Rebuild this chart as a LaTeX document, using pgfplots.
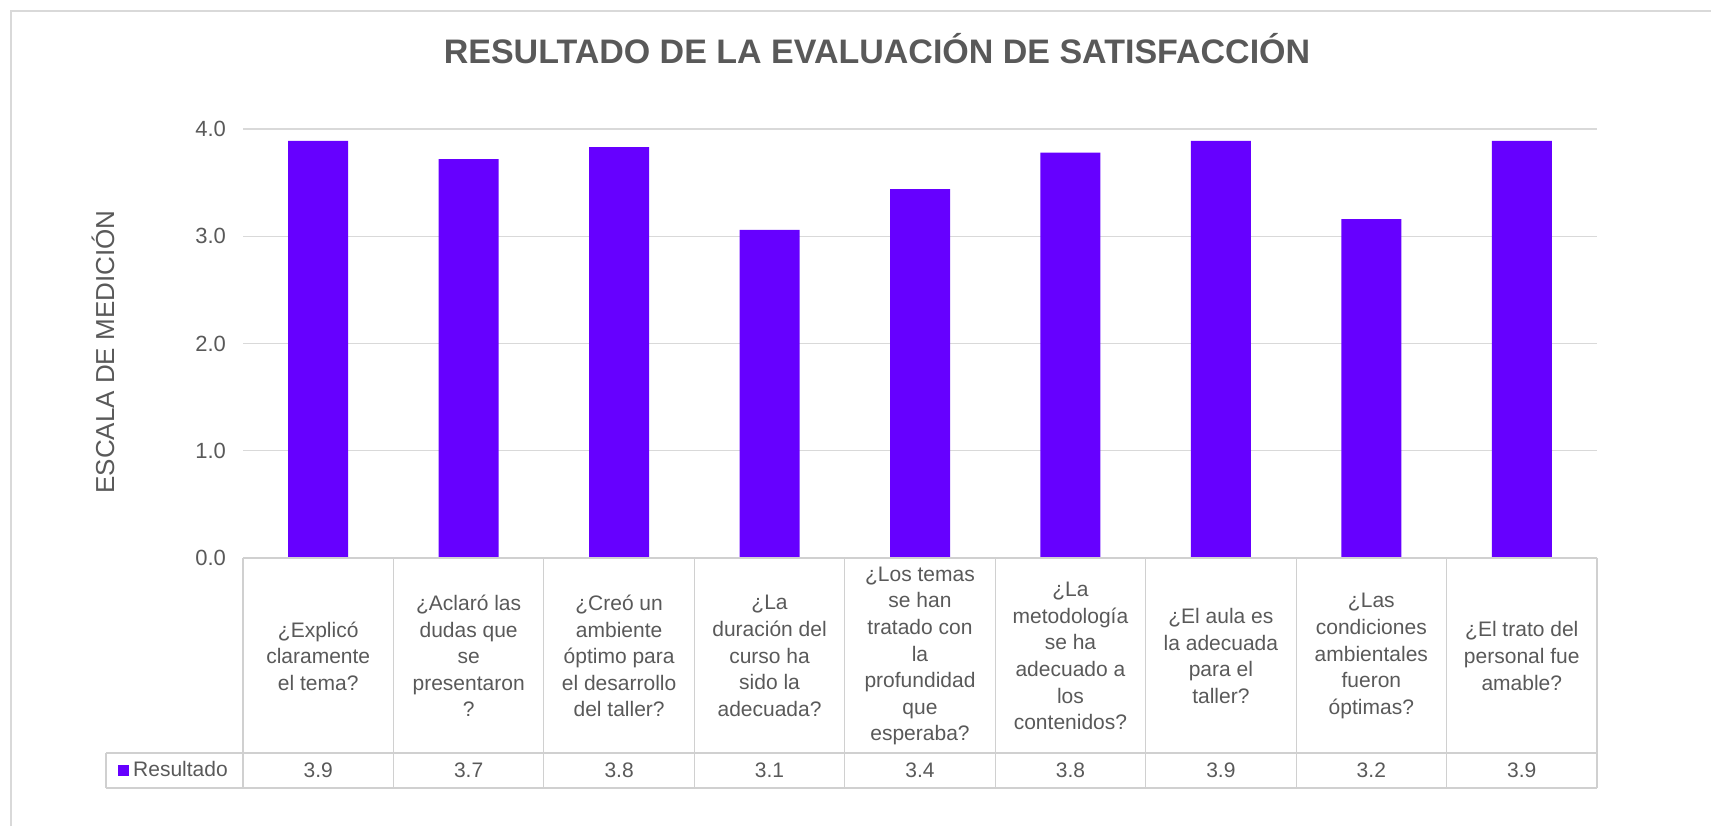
\documentclass[border=0pt]{standalone}
\usepackage{pgfplots}
\pgfplotsset{compat=1.18}
\usepackage{fontspec}
\setmainfont{Liberation Sans}
\definecolor{barc}{RGB}{102,0,255}
\definecolor{txt}{RGB}{89,89,89}
\definecolor{gridc}{RGB}{217,217,217}
\definecolor{tabc}{RGB}{208,208,208}
\begin{document}
\begin{tikzpicture}
\path[use as bounding box] (0,0) rectangle (855.5pt,413pt);
\draw[gridc, line width=0.8pt] (5.5pt,0) -- (5.5pt,407.5pt) -- (855.5pt,407.5pt);
\node[anchor=base, font=\fontsize{17}{20}\selectfont\bfseries, text=txt] at (438.5pt,381pt) {RESULTADO DE LA EVALUACIÓN DE SATISFACCIÓN};
\begin{axis}[
  at={(121.5pt,134pt)}, anchor=south west,
  scale only axis, width=677pt, height=214.5pt,
  xmin=-0.5, xmax=8.5, ymin=0, ymax=4,
  ybar, bar width=30pt,
  axis line style={draw=none},
  ymajorgrids, grid style={gridc, line width=0.6pt},
  ytick={0,1,2,3,4},
  major tick length=0pt,
  /pgf/number format/assume math mode=true,
  yticklabel style={/pgf/number format/.cd, fixed, fixed zerofill, precision=1, /tikz/.cd, font=\fontsize{11}{13}\selectfont, text=txt, xshift=-5pt},
  ylabel={ESCALA DE MEDICIÓN},
  ylabel style={at={(axis description cs:-0.1034,0.48)}, anchor=center, font=\fontsize{13}{15}\selectfont, text=txt},
  xtick={0,...,8},
  xticklabels={{¿Explicó\\claramente\\el tema?},
    {¿Aclaró las\\dudas que\\se\\presentaron\\?},
    {¿Creó un\\ambiente\\óptimo para\\el desarrollo\\del taller?},
    {¿La\\duración del\\curso ha\\sido la\\adecuada?},
    {¿Los temas\\se han\\tratado con\\la\\profundidad\\que\\esperaba?},
    {¿La\\metodología\\se ha\\adecuado a\\los\\contenidos?},
    {¿El aula es\\la adecuada\\para el\\taller?},
    {¿Las\\condiciones\\ambientales\\fueron\\óptimas?},
    {¿El trato del\\personal fue\\amable?}},
  xticklabel style={anchor=center, align=center, yshift=-49pt, font=\fontsize{10.5}{13.3}\selectfont, text=txt},
  extra x ticks={0,1,2,3,4,5,6,7,8},
  extra x tick labels={3.9,3.7,3.8,3.1,3.4,3.8,3.9,3.2,3.9},
  extra x tick style={grid=none, xticklabel style={yshift=-57.25pt}},
  legend style={at={(axis description cs:0,0)}, anchor=center, xshift=-34pt, yshift=-106.25pt, draw=none, fill=none, font=\fontsize{10.5}{13}\selectfont, text=txt, inner sep=0pt},
  legend image code/.code={\fill[barc] (0pt,-2.75pt) rectangle (5.5pt,2.75pt);},
  clip=false,
]
\addplot[fill=barc, draw=none] coordinates {(0,3.89) (1,3.72) (2,3.83) (3,3.06) (4,3.44) (5,3.78) (6,3.89) (7,3.16) (8,3.89)};
\addlegendentry{Resultado}
\end{axis}
\foreach \i in {0,...,9} \draw[tabc, line width=0.6pt] ({121.5pt+\i*75.222pt},134pt) -- ++(0,-115pt);
\draw[tabc, line width=0.6pt] (121.5pt,134pt) -- (798.5pt,134pt);
\draw[tabc, line width=0.6pt] (53pt,36.5pt) -- (798.5pt,36.5pt);
\draw[tabc, line width=0.6pt] (53pt,19pt) -- (798.5pt,19pt);
\draw[tabc, line width=0.6pt] (53pt,19pt) -- (53pt,36.5pt);
\end{tikzpicture}
\end{document}
